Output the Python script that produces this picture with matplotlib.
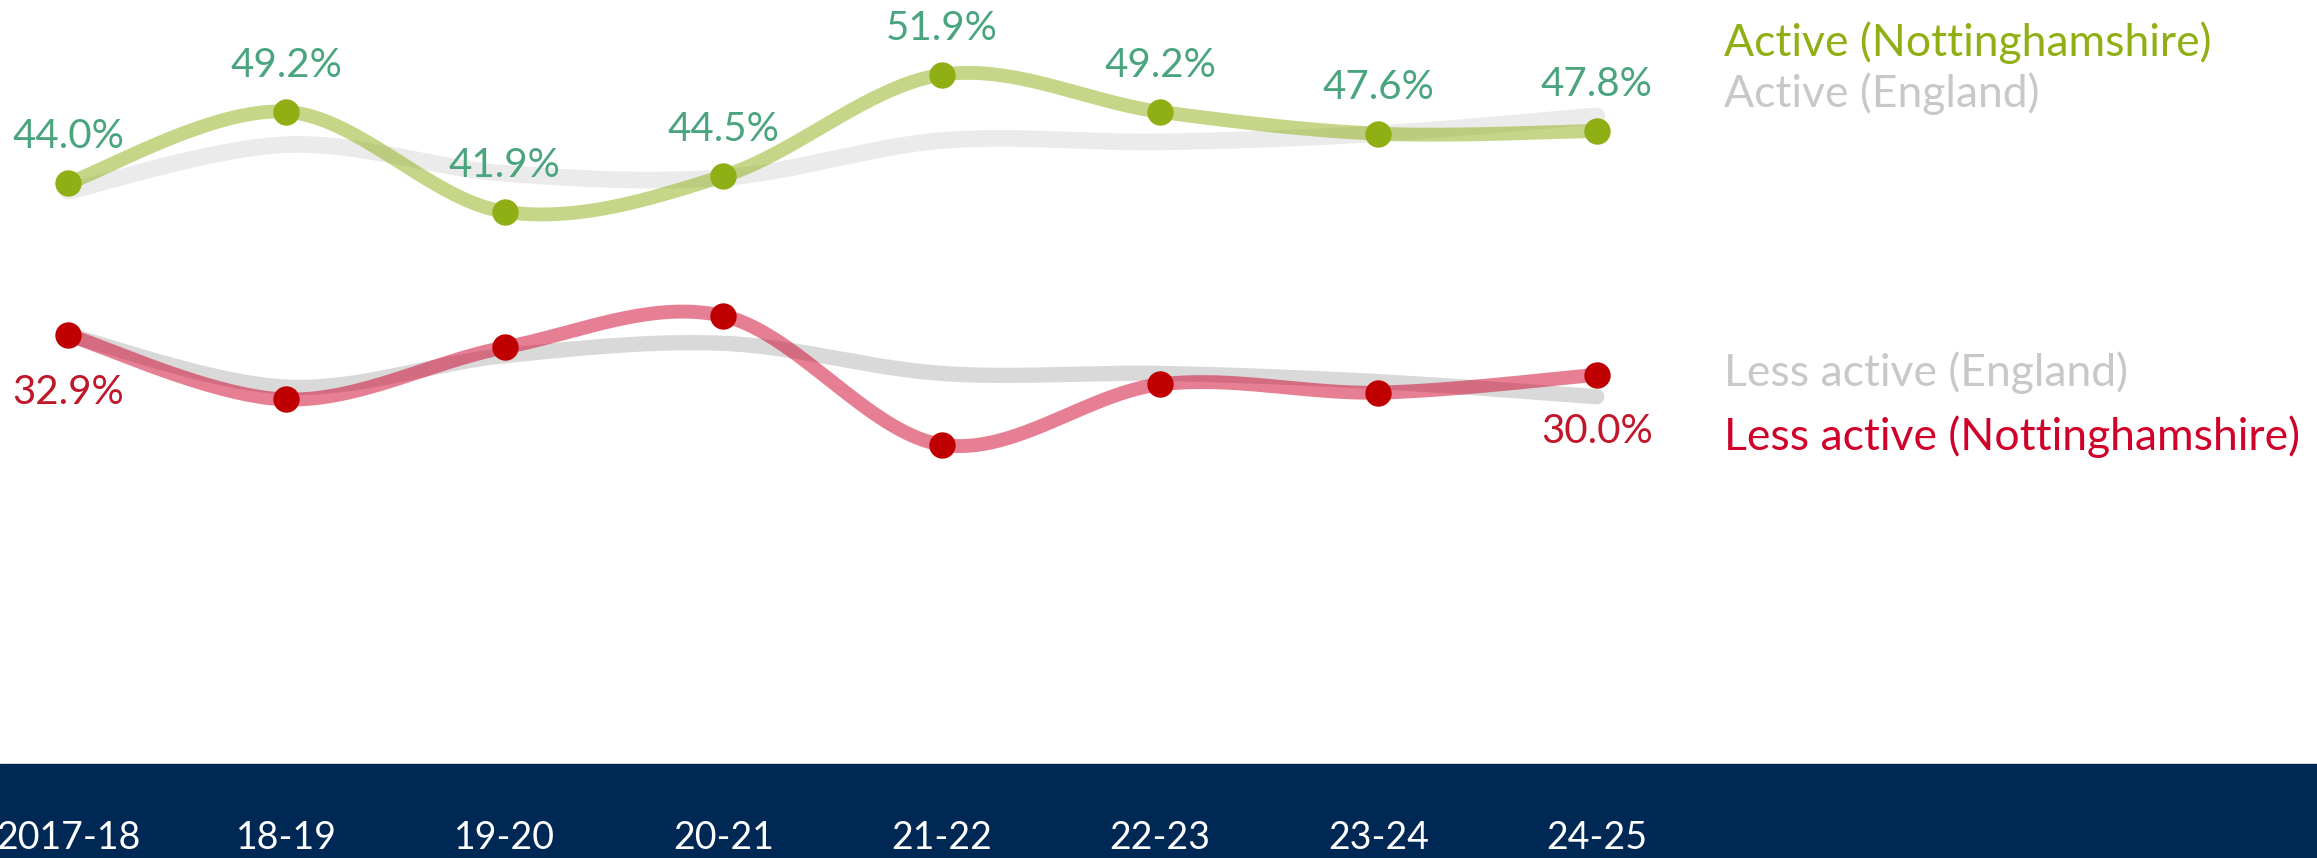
import numpy as np
import matplotlib.pyplot as plt

plt.rcParams['font.family'] = ['Lato', 'DejaVu Sans']

years = ['2017-18', '18-19', '19-20', '20-21', '21-22', '22-23', '23-24', '24-25']
active_notts = [44.0, 49.2, 41.9, 44.5, 51.9, 49.2, 47.6, 47.8]
active_eng = [43.4, 46.8, 44.7, 44.4, 47.1, 47.0, 47.6, 48.9]
less_notts = [32.9, 28.2, 32.0, 34.3, 24.9, 29.3, 28.7, 30.0]
less_eng = [32.9, 29.1, 31.4, 32.3, 30.1, 30.1, 29.5, 28.4]


def smooth(y, n=40):
    # catmull-rom curve through the points, like Excel's smoothed lines
    y = np.asarray(y, float)
    x = np.arange(len(y), dtype=float)
    P = np.column_stack([x, y])
    P = np.vstack([P[0], P, P[-1]])
    out = []
    t = np.linspace(0, 1, n)[:, None]
    for i in range(1, len(P) - 2):
        p0, p1, p2, p3 = P[i - 1], P[i], P[i + 1], P[i + 2]
        seg = 0.5 * ((2 * p1) + (-p0 + p2) * t + (2 * p0 - 5 * p1 + 4 * p2 - p3) * t ** 2
                     + (-p0 + 3 * p1 - 3 * p2 + p3) * t ** 3)
        out.append(seg)
    out = np.vstack(out)
    return out[:, 0], out[:, 1]


W, H = 2317, 858
fig = plt.figure(figsize=(W / 100, H / 100), dpi=100)
ax = fig.add_axes([0, 0, 1, 1])
ax.axis('off')

px_x = 218.4   # pixels per category
px_y = 13.7    # pixels per percentage point
x0, y0, v0 = 68, 183, 44.0
ax.set_xlim(-x0 / px_x, (W - x0) / px_x)
ax.set_ylim(v0 - (H - y0) / px_y, v0 + y0 / px_y)

green = '#8FAF14'
red = '#D0002B'
lw = 10

# England lines underneath
sx, sy = smooth(active_eng)
ax.plot(sx, sy, color='#EBEBEB', lw=12, solid_capstyle='round', zorder=1)
sx, sy = smooth(less_eng)
ax.plot(sx, sy, color='#D9D9D9', lw=11, solid_capstyle='round', zorder=1)

# Nottinghamshire lines
sx, sy = smooth(active_notts)
ax.plot(sx, sy, color=green, alpha=0.5, lw=lw, solid_capstyle='round', zorder=2)
sx, sy = smooth(less_notts)
ax.plot(sx, sy, color=red, alpha=0.5, lw=lw, solid_capstyle='round', zorder=2)

xs = np.arange(len(years))
ax.plot(xs, active_notts, 'o', color=green, ms=19, mec='none', zorder=3)
ax.plot(xs, less_notts, 'o', color='#C00000', ms=19, mec='none', zorder=3)

fs = 29
for x, v in zip(xs, active_notts):
    ax.annotate(f'{v:.1f}%', (x, v), xytext=(0, 33.5), textcoords='offset points',
                ha='center', va='center', color='#4AA57F', fontsize=fs)
for i in (0, len(years) - 1):
    ax.annotate(f'{less_notts[i]:.1f}%', (i, less_notts[i]), xytext=(0, -41),
                textcoords='offset points', ha='center', va='center',
                color='#C0182A', fontsize=fs)

# series names on the right
lx = 1724 / W
names = [('Active (Nottinghamshire)', green, 43),
         ('Active (England)', '#C8C8C8', 94),
         ('Less active (England)', '#C8C8C8', 373),
         ('Less active (Nottinghamshire)', red, 437)]
for txt, col, py in names:
    fig.text(lx, 1 - py / H, txt, color=col, fontsize=32, ha='left', va='center')

# dark band with the year labels
ax.axhspan(ax.get_ylim()[0], v0 - (764 - y0) / px_y, color='#002855', zorder=0)
for x, lab in zip(xs, years):
    ax.text(x, 1 - 838 / H, lab, transform=ax.get_xaxis_transform(), ha='center',
            va='center', color='white', fontsize=27, zorder=5)

fig.savefig('out.png', dpi=100)
